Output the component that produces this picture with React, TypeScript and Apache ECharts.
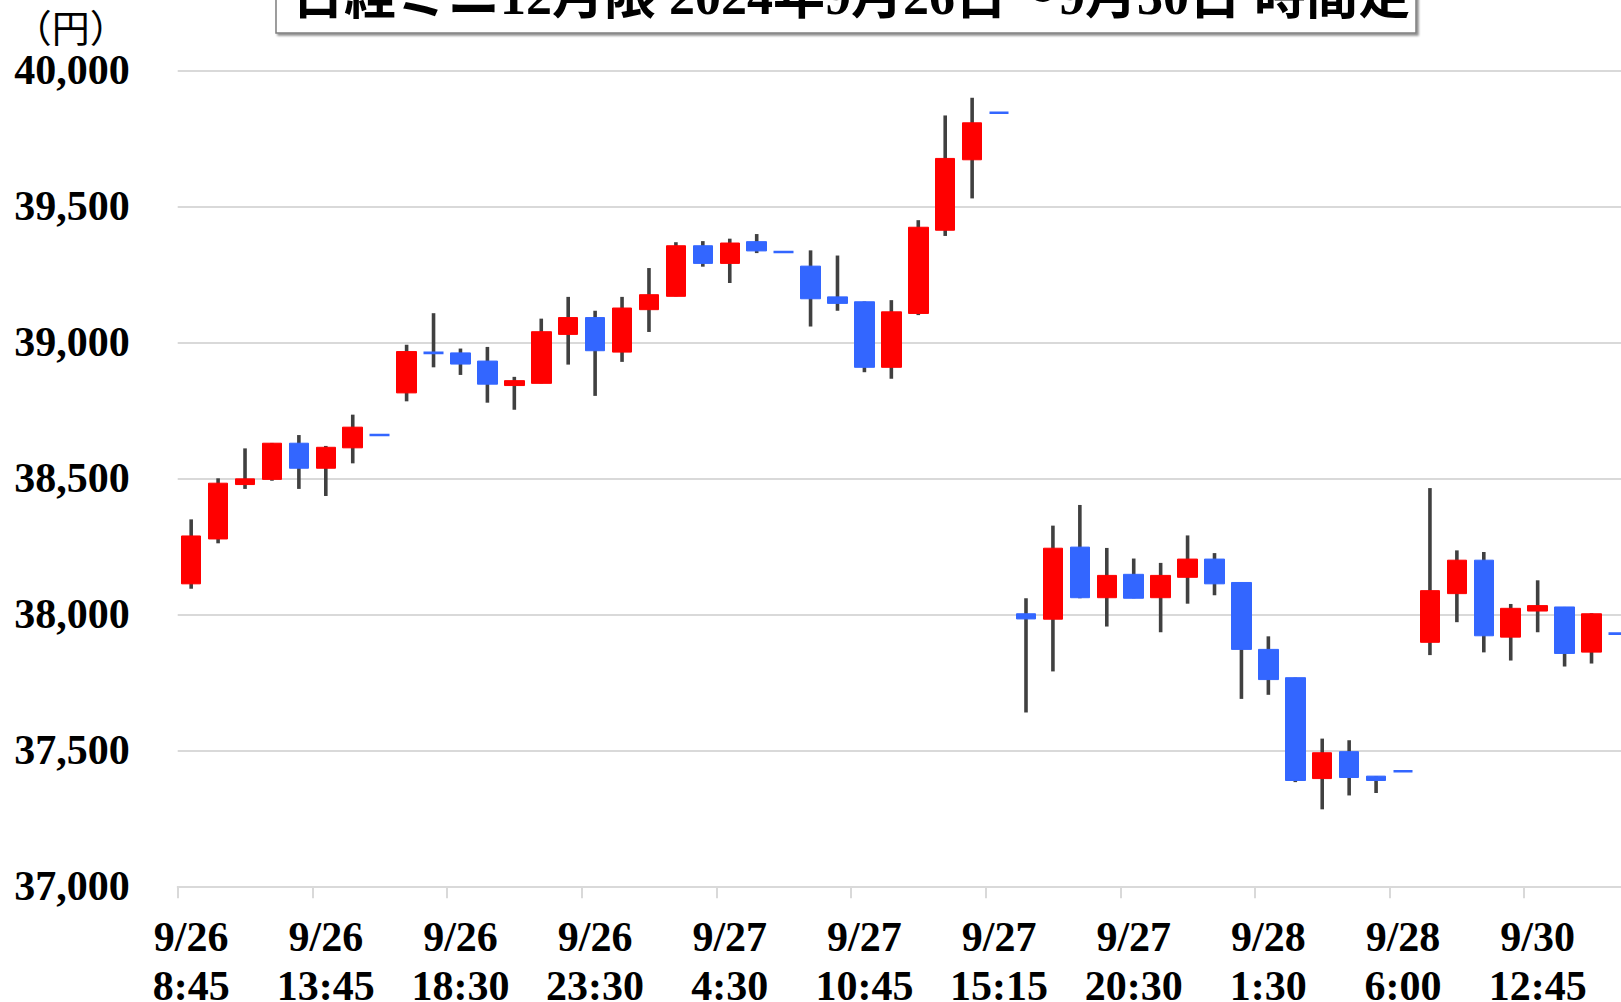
import React, { useEffect, useRef } from 'react';
import * as echarts from 'echarts';

const categories = [
  '9/26\n8:45', '9/26\n9:45', '9/26\n10:45', '9/26\n11:45', '9/26\n12:45',
  '9/26\n13:45', '9/26\n14:45', '9/26\n15:15', '9/26\n16:30', '9/26\n17:30',
  '9/26\n18:30', '9/26\n19:30', '9/26\n20:30', '9/26\n21:30', '9/26\n22:30',
  '9/26\n23:30', '9/27\n0:30', '9/27\n1:30', '9/27\n2:30', '9/27\n3:30',
  '9/27\n4:30', '9/27\n5:30', '9/27\n6:00', '9/27\n8:45', '9/27\n9:45',
  '9/27\n10:45', '9/27\n11:45', '9/27\n12:45', '9/27\n13:45', '9/27\n14:45',
  '9/27\n15:15', '9/27\n16:30', '9/27\n17:30', '9/27\n18:30', '9/27\n19:30',
  '9/27\n20:30', '9/27\n21:30', '9/27\n22:30', '9/27\n23:30', '9/28\n0:30',
  '9/28\n1:30', '9/28\n2:30', '9/28\n3:30', '9/28\n4:30', '9/28\n5:30',
  '9/28\n6:00', '9/30\n8:45', '9/30\n9:45', '9/30\n10:45', '9/30\n11:45',
  '9/30\n12:45', '9/30\n13:45', '9/30\n14:45', '9/30\n15:15',
];

const opens = [
  38112, 38277, 38477, 38496, 38629, 38537, 38612, 38659, 38814, 38961,
  38961, 38931, 38841, 38849, 39029, 39091, 38964, 39120, 39169, 39355,
  39290, 39370, 39332, 39280, 39167, 39149, 38908, 39106, 39412, 39671,
  39844, 38002, 37982, 38247, 38061, 38147, 38061, 38136, 38203, 38117,
  37871, 37767, 37396, 37495, 37405, 37423, 37897, 38076, 38199, 37916,
  38012, 38027, 37861, 37929,
];
const closes = [
  38288, 38482, 38498, 38629, 38537, 38614, 38688, 38659, 38966, 38961,
  38920, 38846, 38859, 39039, 39091, 38969, 39126, 39175, 39355, 39290,
  39365, 39336, 39332, 39160, 39143, 38908, 39112, 39423, 39676, 39807,
  39844, 37983, 38243, 38061, 38143, 38059, 38143, 38203, 38112, 37871,
  37760, 37389, 37491, 37400, 37389, 37423, 38087, 38199, 37921, 38022,
  38032, 37856, 38002, 37929,
];
const lows = [
  38094, 38261, 38461, 38491, 38461, 38435, 38555, 38659, 38783, 38908,
  38880, 38778, 38752, 38849, 38918, 38803, 38928, 39038, 39169, 39278,
  39218, 39328, 39332, 39058, 39116, 38890, 38866, 39100, 39391, 39529,
  39844, 37639, 37790, 38059, 37955, 38059, 37934, 38039, 38070, 37689,
  37704, 37383, 37283, 37334, 37343, 37423, 37850, 37971, 37860, 37830,
  37934, 37808, 37819, 37929,
];
const highs = [
  38349, 38500, 38610, 38630, 38659, 38619, 38734, 38659, 38991, 39107,
  38977, 38983, 38873, 39087, 39167, 39116, 39167, 39273, 39368, 39372,
  39381, 39398, 39332, 39338, 39319, 39150, 39155, 39449, 39834, 39899,
  39844, 38059, 38326, 38402, 38244, 38205, 38189, 38290, 38225, 38117,
  37919, 37767, 37543, 37537, 37405, 37423, 38464, 38235, 38229, 38038,
  38125, 38027, 38004, 37929,
];

const yTicks = [37000, 37500, 38000, 38500, 39000, 39500, 40000];

const TITLE = '日経ミニ12月限 2024年9月26日～9月30日 時間足';
const UP = '#ff0000';
const DOWN = '#3366ff';
const WICK = '#404040';
const GRIDLINE = '#d9d9d9';
const SERIF = '"Liberation Serif", "Times New Roman", serif';

export default function App() {
  const ref = useRef<HTMLDivElement>(null);

  useEffect(() => {
    if (!ref.current) return;
    document.documentElement.style.overflow = 'hidden';
    document.body.style.overflow = 'hidden';
    document.body.style.margin = '0';
    const chart = echarts.init(ref.current, null, { renderer: 'svg' });

    const bodyData = opens.map((o, i) => {
      const c = closes[i];
      const col = c > o ? UP : DOWN;
      return {
        value: [o, c, Math.min(o, c), Math.max(o, c)],
        itemStyle: {
          color: col,
          color0: col,
          borderColor: col,
          borderColor0: col,
          borderWidth: o === c ? 2.6 : 1,
        },
      };
    });
    const wickData = lows.map((l, i) => [i, l, highs[i]]);

    chart.setOption({
      animation: false,
      backgroundColor: '#ffffff',
      grid: {
        left: 177.7,
        top: 70.3,
        width: 54 * 26.93,
        height: 816,
        containLabel: false,
        outerBoundsMode: 'none',
      },
      xAxis: {
        type: 'category',
        data: categories,
        boundaryGap: true,
        axisLine: { lineStyle: { color: GRIDLINE, width: 2 } },
        axisTick: { show: true, interval: 4, length: 12, lineStyle: { color: GRIDLINE, width: 2 } },
        axisLabel: {
          interval: 4,
          color: '#000',
          fontFamily: SERIF,
          fontWeight: 'bold',
          fontSize: 42,
          lineHeight: 49,
          margin: 26,
        },
        splitLine: { show: false },
      },
      yAxis: {
        type: 'value',
        min: yTicks[0],
        max: yTicks[yTicks.length - 1],
        interval: 500,
        name: '（円）',
        nameLocation: 'end',
        nameGap: 25,
        nameTextStyle: {
          align: 'right',
          padding: [0, 50, 0, 0],
          fontSize: 38,
          lineHeight: 40,
          color: '#000',
          fontFamily: '"Noto Sans CJK JP", sans-serif',
        },
        axisLine: { show: false },
        axisTick: { show: false },
        axisLabel: {
          formatter: (v: number) => v.toLocaleString('en-US'),
          color: '#000',
          fontFamily: SERIF,
          fontWeight: 'bold',
          fontSize: 42,
          margin: 48,
        },
        splitLine: { lineStyle: { color: GRIDLINE, width: 2 } },
      },
      graphic: [
        {
          type: 'rect',
          shape: { x: 276, y: -80, width: 1140, height: 113 },
          style: {
            fill: '#ffffff',
            stroke: '#7f7f7f',
            lineWidth: 1.5,
            shadowBlur: 2,
            shadowOffsetX: 2,
            shadowOffsetY: 2,
            shadowColor: 'rgba(0,0,0,0.45)',
          },
          z: 10,
        },
        {
          type: 'text',
          x: 851,
          y: 22,
          style: {
            text: TITLE,
            fill: '#000',
            fontSize: 52,
            fontWeight: 'bold',
            fontFamily: '"Liberation Serif", "Noto Sans CJK JP", serif',
            textAlign: 'center',
            textVerticalAlign: 'bottom',
          },
          z: 11,
        },
      ],
      series: [
        {
          type: 'custom',
          name: 'wick',
          z: 1,
          encode: { x: 0, y: [1, 2] },
          data: wickData,
          renderItem: (params: any, api: any) => {
            const lo = api.coord([api.value(0), api.value(1)]);
            const hi = api.coord([api.value(0), api.value(2)]);
            return {
              type: 'line',
              shape: { x1: lo[0], y1: lo[1], x2: hi[0], y2: hi[1] },
              style: { stroke: WICK, lineWidth: 3.6 },
            };
          },
        },
        {
          type: 'candlestick',
          name: 'body',
          z: 2,
          barWidth: 20,
          barMaxWidth: 20,
          data: bodyData,
        },
      ],
    });

    return () => chart.dispose();
  }, []);

  return (
    <div
      ref={ref}
      style={{ position: 'fixed', left: 0, top: 0, width: 1621, height: 1002, background: '#fff' }}
    />
  );
}
